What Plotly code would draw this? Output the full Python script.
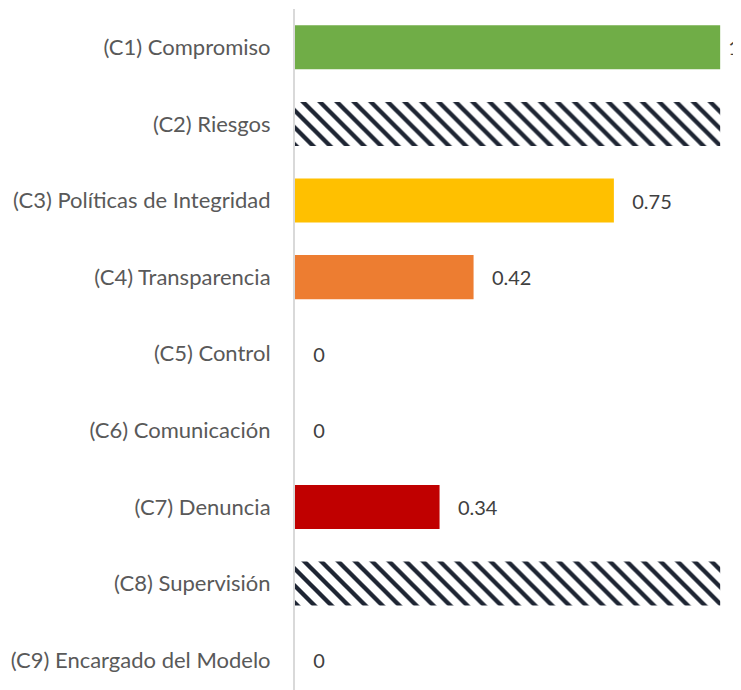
import plotly.graph_objects as go

categories = [
    "(C1) Compromiso",
    "(C2) Riesgos",
    "(C3) Políticas de Integridad",
    "(C4) Transparencia",
    "(C5) Control",
    "(C6) Comunicación",
    "(C7) Denuncia",
    "(C8) Supervisión",
    "(C9) Encargado del Modelo",
]
values = [1, 1, 0.75, 0.42, 0, 0, 0.34, 1, 0]
labels = ["1", "", "0.75", "0.42", "0", "0", "0.34", "", "0"]
hatched = [False, True, False, False, False, False, False, True, False]
colors = ["#70AD47", "#FFFFFF", "#FFC000", "#ED7D31", "#FFFFFF", "#FFFFFF", "#C00000", "#FFFFFF", "#FFFFFF"]

FONT = "Lato"

solid_y = [c for c, h in zip(categories, hatched) if not h]
solid_x = [v for v, h in zip(values, hatched) if not h]
solid_t = [(" " if t == "1" else "   ") + t for t, h in zip(labels, hatched) if not h]
solid_c = [c for c, h in zip(colors, hatched) if not h]
hatch_y = [c for c, h in zip(categories, hatched) if h]
hatch_x = [v for v, h in zip(values, hatched) if h]

fig = go.Figure()
fig.add_trace(
    go.Bar(
        y=solid_y,
        x=solid_x,
        orientation="h",
        text=solid_t,
        textposition="outside",
        constraintext="none",
        cliponaxis=False,
        textfont=dict(family=FONT, size=20, color="#404040"),
        marker=dict(color=solid_c, line=dict(width=0)),
        width=0.575,
        hoverinfo="skip",
    )
)
fig.add_trace(
    go.Bar(
        y=hatch_y,
        x=hatch_x,
        orientation="h",
        marker=dict(
            color="#FFFFFF",
            line=dict(width=0),
            pattern=dict(
                shape="\\",
                fgcolor="#1E2533",
                bgcolor="#FFFFFF",
                size=12,
                solidity=0.36,
                fillmode="replace",
            ),
        ),
        width=0.575,
        hoverinfo="skip",
    )
)

fig.update_layout(
    width=733,
    height=682,
    barmode="overlay",
    margin=dict(l=287, r=0, t=1, b=0),
    paper_bgcolor="white",
    plot_bgcolor="white",
    showlegend=False,
    font=dict(family=FONT, size=21, color="#595959"),
)
fig.update_xaxes(
    range=[0, 1.049],
    showgrid=False,
    zeroline=False,
    showticklabels=False,
    showline=False,
)
fig.update_yaxes(
    type="category",
    categoryorder="array",
    categoryarray=categories,
    range=[8.39, -0.5],
    showgrid=False,
    zeroline=False,
    showline=True,
    linecolor="#D9D9D9",
    linewidth=2,
    ticks="",
    ticklabelstandoff=18,
    tickfont=dict(family=FONT, size=22, color="#595959"),
)

fig.write_html("out.html")
